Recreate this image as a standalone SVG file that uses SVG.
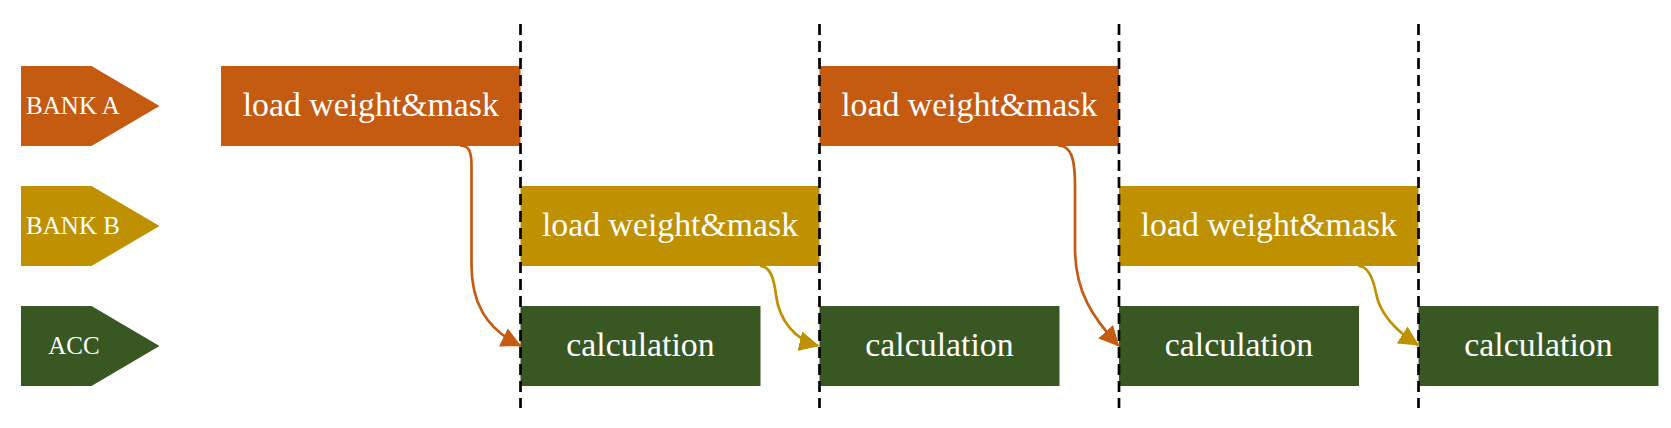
<svg xmlns="http://www.w3.org/2000/svg" width="1671" height="428" viewBox="0 0 1671 428">
<style>
.or{fill:#C55A11}.ye{fill:#BF9000}.gr{fill:#385723}
.t{font-family:"Liberation Serif","Times New Roman",serif;fill:#fff;text-anchor:middle}
.big{font-size:33.8px}.lab{font-size:25px}
.c{fill:none;stroke-width:2.7}
.co{stroke:#C55A11}.cy{stroke:#BF9000}
.dash{stroke:#000;stroke-width:2.7;stroke-dasharray:11 6;fill:none}
</style>
<defs>
<marker id="ao" markerUnits="userSpaceOnUse" markerWidth="21" markerHeight="21" refX="19" refY="10" orient="auto" viewBox="0 0 21 21"><path d="M0,0 L20,10 L0,20 z" fill="#C55A11"/></marker>
<marker id="ay" markerUnits="userSpaceOnUse" markerWidth="21" markerHeight="21" refX="19" refY="10" orient="auto" viewBox="0 0 21 21"><path d="M0,0 L20,10 L0,20 z" fill="#BF9000"/></marker>
</defs>
<g id="labelBankA"><polygon class="or" points="21,66 91.5,66 159.5,106 91.5,146 21,146"/><text class="t lab" x="73" y="113.5">BANK A</text></g>
<g id="labelBankB"><polygon class="ye" points="21,186 91.5,186 159.5,226 91.5,266 21,266"/><text class="t lab" x="73" y="233.5">BANK B</text></g>
<g id="labelAcc"><polygon class="gr" points="21,306 91.5,306 159.5,346 91.5,386 21,386"/><text class="t lab" x="74" y="353.5">ACC</text></g>
<g id="loadA1"><rect class="or" x="221" y="66" width="299.5" height="80"/><text class="t big" x="370.75" y="115.5">load weight&amp;mask</text></g>
<g id="loadA2"><rect class="or" x="819.5" y="66" width="299.5" height="80"/><text class="t big" x="969.25" y="115.5">load weight&amp;mask</text></g>
<g id="loadB1"><rect class="ye" x="520.5" y="186" width="299" height="80"/><text class="t big" x="670" y="235.5">load weight&amp;mask</text></g>
<g id="loadB2"><rect class="ye" x="1119" y="186" width="299.5" height="80"/><text class="t big" x="1268.75" y="235.5">load weight&amp;mask</text></g>
<g id="calc1"><rect class="gr" x="520.5" y="306" width="240" height="80"/><text class="t big" x="640.5" y="355.5">calculation</text></g>
<g id="calc2"><rect class="gr" x="819.5" y="306" width="240" height="80"/><text class="t big" x="939.5" y="355.5">calculation</text></g>
<g id="calc3"><rect class="gr" x="1119" y="306" width="240" height="80"/><text class="t big" x="1239" y="355.5">calculation</text></g>
<g id="calc4"><rect class="gr" x="1418.5" y="306" width="240" height="80"/><text class="t big" x="1538.5" y="355.5">calculation</text></g>
<g id="connectors">
<path class="c co" marker-end="url(#ao)" d="M460,145.5 C469,145.5 471.5,151 471.5,166 L471.5,265 C471.5,300 484,328 520.5,345.7"/>
<path class="c co" marker-end="url(#ao)" d="M1058,145.5 C1071,145.5 1075,158 1075,185 L1075,248 C1075,292 1093,318 1118.5,345.7"/>
<path class="c cy" marker-end="url(#ay)" d="M760,266 C770,266 774,278 776,295 C779,320 795,340 818.3,345.7"/>
<path class="c cy" marker-end="url(#ay)" d="M1358.3,266 C1368,266 1373,278 1376,293 C1380,315 1397,331.7 1418.3,345"/>
</g>
<g id="dividers">
<line class="dash" x1="520.5" y1="24" x2="520.5" y2="408"/>
<line class="dash" x1="819.5" y1="24" x2="819.5" y2="408"/>
<line class="dash" x1="1119" y1="24" x2="1119" y2="408"/>
<line class="dash" x1="1418.5" y1="24" x2="1418.5" y2="408"/>
</g>
</svg>
